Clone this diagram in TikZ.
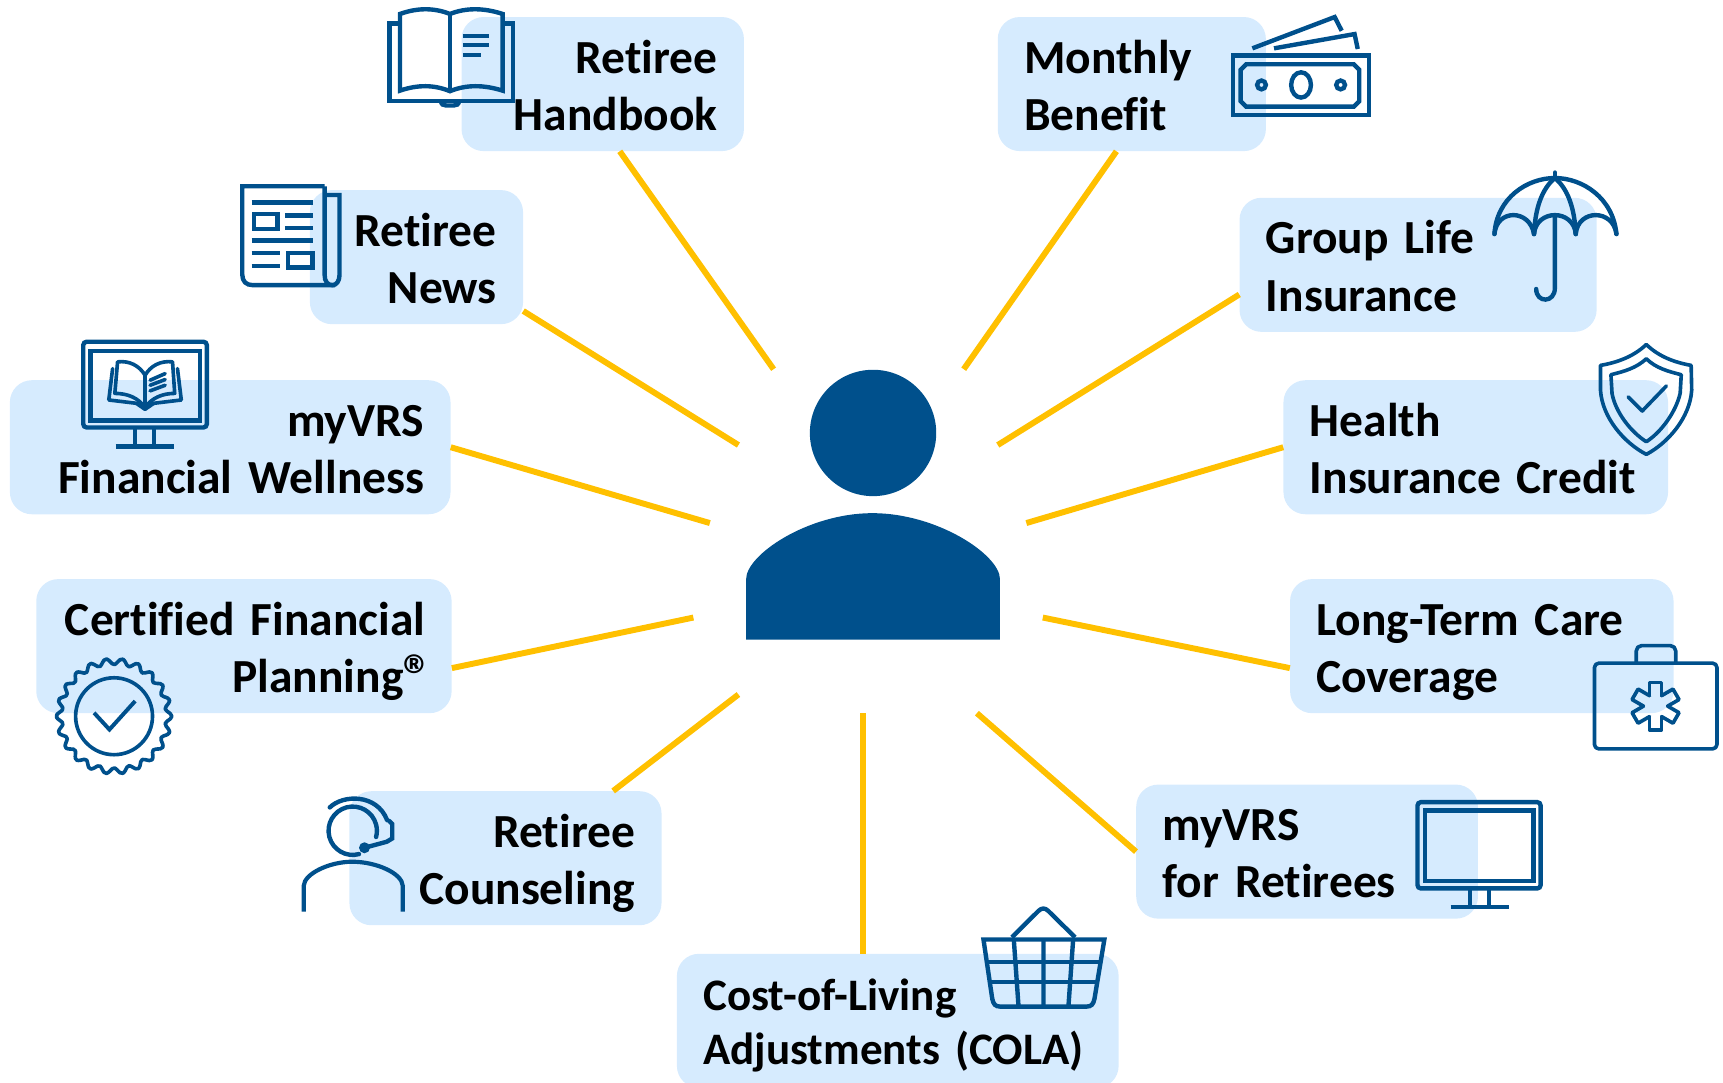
\documentclass[tikz,border=0pt]{standalone}
\usepackage{fontspec}
\setmainfont{Carlito}[Ligatures=NoCommon,WordSpace=0.5]
\usetikzlibrary{calc}
\definecolor{boxblue}{HTML}{D6EBFE}
\definecolor{iconblue}{HTML}{00508C}
\definecolor{gold}{HTML}{FFC000}
\newcommand{\topst}{\rule{0pt}{47.8pt}}
\tikzset{
  tbox/.style={fill=boxblue,rounded corners=20pt,minimum height=122pt,inner xsep=24pt,inner ysep=0pt,
     font=\fontsize{43.2}{52}\selectfont\bfseries,text=black},
  link/.style={draw=gold,line width=5.4pt},
  ic/.style={draw=iconblue,line width=4pt,line join=miter},
  icthin/.style={draw=iconblue,line width=3.3pt,line cap=round,line join=round},
  icfill/.style={fill=iconblue,draw=none}
}
\begin{document}
\begin{tikzpicture}[x=1pt,y=-1pt]
\useasboundingbox (0,0) rectangle (1568,984.7);
% boxes
\node[tbox,text width=209pt,align=right] (hb) at (548.5,76.5) {\topst Retiree\\\strut Handbook};
\node[tbox,text width=196pt,align=left]  (mb) at (1030,76.5) {\topst Monthly\\\strut Benefit};
\node[tbox,text width=146pt,align=right] (nw) at (379,234) {\topst Retiree\\\strut News};
\node[tbox,text width=277pt,align=left]  (gl) at (1290.5,241) {\topst Group Life\\\strut Insurance};
\node[tbox,text width=353pt,align=right] (fw) at (209.5,407) {\topst myVRS\\\strut Financial Wellness};
\node[tbox,text width=302pt,align=left]  (hc) at (1343,407) {\topst Health\\\strut Insurance Credit};
\node[tbox,text width=330pt,align=right] (cf) at (222,588) {\topst Certified Financial\\\strut Planning\raisebox{-3pt}{\fontsize{53}{52}\selectfont ®}\kern-7pt};
\node[tbox,text width=301pt,align=left]  (lt) at (1348.5,588) {\topst Long-Term Care\\\strut Coverage};
\node[tbox,text width=236pt,align=right] (rc) at (460,781) {\topst Retiree\\\strut Counseling};
\node[tbox,text width=263pt,align=left]  (rt) at (1189.5,775) {\topst myVRS\\\strut for Retirees};
\node[tbox,text width=354pt,align=left,font=\fontsize{41}{49}\selectfont\bfseries] (co) at (817,929) {\rule{0pt}{44.5pt}Cost-of-Living\\\strut Adjustments (COLA)};
% person
\fill[iconblue] (794.5,394) circle[radius=57.5];
\node[inner sep=0pt,minimum size=0pt] (person) at (794,520) {};
\fill[iconblue] (679,582) -- (679,527) .. controls (679,505) and (735,467) .. (794,467)
   .. controls (853,467) and (910,505) .. (910,527) -- (910,582) -- cycle;
% connector ends
\coordinate (ehb) at (704,336);
\coordinate (emb) at (877,336);
\coordinate (enw) at (672,405);
\coordinate (egl) at (908,405);
\coordinate (efw) at (646,476);
\coordinate (ehc) at (934,476);
\coordinate (ecf) at (631,562);
\coordinate (elt) at (949,562);
\coordinate (erc) at (672,632);
\coordinate (ert) at (889,649);
\coordinate (eco) at (785,649);
\draw[link] ([xshift=15.5pt]hb.south) -- (ehb);
\draw[link] ([xshift=-14pt]mb.south) -- (emb);
\draw[link] ([yshift=-49pt]nw.east) -- (enw);
\draw[link] ([yshift=-27pt]gl.west) -- (egl);
\draw[link] (fw.east) -- (efw);
\draw[link] (hc.west) -- (ehc);
\draw[link] ([yshift=-20pt]cf.east) -- (ecf);
\draw[link] ([yshift=-20pt]lt.west) -- (elt);
\draw[link] ([xshift=98pt]rc.north) -- (erc);
\draw[link] (rt.west) -- (ert);
\draw[link] ([xshift=-32pt]co.north) -- (eco);
% handbook icon
\draw[ic] (364,12.7) .. controls (380,7) and (395,7) .. (409.5,12.7) .. controls (424,7) and (440,7) .. (457.4,12.7)
   -- (457.4,82.5) .. controls (440,77) and (424,77) .. (409.5,83) .. controls (395,77) and (380,77) .. (364,82.5) -- cycle;
\draw[ic] (409.5,12.7) -- (409.5,83);
\draw[ic] (364,21.5) -- (354.5,21.5) -- (354.5,92) -- (467,92) -- (467,21.5) -- (457.4,21.5);
\draw[ic] (401,92) .. controls (402,95) and (403,96) .. (406,96) -- (413,96) .. controls (416,96) and (417,95) .. (418,92);
\draw[ic] (421.3,32.8) -- (444.6,32.8) (421.3,41.2) -- (444.6,41.2) (421.3,50) -- (437.3,50);
% newspaper icon
\draw[ic] (295.4,169.5) -- (220.5,169.5) -- (220.5,250) .. controls (220.5,256) and (224,259.5) .. (230,259.5) -- (305,259.5);
\draw[ic] (295.4,169.5) -- (295.4,250) .. controls (295.4,256) and (298,259.5) .. (302.5,259.5) .. controls (306,259.5) and (309,256) .. (309,250) -- (309,177.5) -- (295.4,177.5);
\draw[ic] (229,184.4) -- (285,184.4) (259.3,196.2) -- (285,196.2) (259.3,207.5) -- (285,207.5)
   (229,219) -- (285,219) (229,230.5) -- (254.5,230.5) (229,242) -- (254.5,242);
\draw[ic] (231,194.5) rectangle (252.5,208.5);
\draw[ic] (262,230) rectangle (284.5,243.5);
% money icon
\draw[ic] (1122,50.5) rectangle (1246,104.5);
\draw[ic] (1134,58.5) -- (1232,58.5) -- (1237,63.5) -- (1237,92) -- (1232,97) -- (1134,97) -- (1129,92) -- (1129,63.5) -- cycle;
\draw[ic] (1184,77.3) ellipse[x radius=9,y radius=11.5];
\draw[ic] (1148,77.3) circle[radius=4];
\draw[ic] (1220,77.3) circle[radius=4];
\draw[ic] (1139.7,44) -- (1214.6,15.5) -- (1221,28);
\draw[ic] (1159.4,44) -- (1232.7,31) -- (1235.6,44.6);
% umbrella icon
\begin{scope}[line cap=round]
\draw[ic] (1360,213) .. controls (1362,180) and (1390,162) .. (1415,162) .. controls (1440,162) and (1468,180) .. (1471,213);
\draw[ic] (1360,213) .. controls (1362,190) and (1392,190) .. (1396,213);
\draw[ic] (1396,213) .. controls (1398,190) and (1432,190) .. (1434,213);
\draw[ic] (1434,213) .. controls (1436,190) and (1468,190) .. (1471,213);
\draw[ic] (1415,162) .. controls (1403,172) and (1397,190) .. (1396,213);
\draw[ic] (1415,162) .. controls (1427,172) and (1433,190) .. (1434,213);
\draw[ic] (1415,157) -- (1415,162);
\draw[ic] (1415,197) -- (1415,262) .. controls (1415,276) and (1398,276) .. (1398,263);
\end{scope}
% monitor with book icon
\draw[ic,rounded corners=3pt] (75.8,311) rectangle (188.2,389);
\draw[ic] (82.5,319.3) rectangle (182,382.5);
\draw[ic] (122.9,390) -- (122.9,405) (140.3,390) -- (140.3,405) (105.3,406.5) -- (158.5,406.5);
\begin{scope}[icthin]
\draw[icthin] (107,329.3) .. controls (118,328) and (127,333) .. (132,341.5) .. controls (137,333) and (146,328) .. (157,329.3)
  -- (159,358) .. controls (148,358) and (138,362) .. (132,371) .. controls (126,362) and (116,358) .. (104.5,358) -- cycle;
\draw[icthin] (132,341.5) -- (132,371);
\draw[icthin] (102.5,335.4) -- (99,364) -- (124,367) (165,364) -- (161.5,335.4) (165,364) -- (140,367);
\draw[icthin] (124,367) -- (132,372.5) -- (140,367);
\draw[icthin] (136.6,346) -- (150.3,340) (136.6,350.6) -- (150.3,345.4) (136.6,355.7) -- (150.3,350.6);
\end{scope}
% certified seal icon
\draw[icthin] plot[smooth cycle,samples=133,domain=0:357.3,variable=\t] ({103.8+(49.8-2.8*cos(22*(\t-90)))*cos(\t)},{651.8+(49.8-2.8*cos(22*(\t-90)))*sin(\t)});
\draw[icthin] (103.8,651.8) circle[radius=35];
\draw[icthin,line width=3.6pt,line cap=butt,line join=miter] (85.6,648.7) -- (99.6,663.9) -- (123,638);
% shield icon
\draw[icthin] (1498.2,313.5) .. controls (1510,325) and (1525,330) .. (1539,332.5) -- (1539.5,355)
  .. controls (1538,380) and (1518,403) .. (1498.2,413.5) .. controls (1478,403) and (1458,380) .. (1456.5,355) -- (1456.5,332.5)
  .. controls (1471,330) and (1486,325) .. (1498.2,313.5) -- cycle;
\draw[icthin] (1498.2,326.5) .. controls (1507,335) and (1518,338) .. (1530,341) -- (1529,358)
  .. controls (1525,375) and (1512,393) .. (1498.2,402) .. controls (1484,393) and (1470,375) .. (1467,358) -- (1466,341)
  .. controls (1478,338) and (1489,335) .. (1498.2,326.5) -- cycle;
\draw[icthin] (1481.7,361.2) -- (1494.5,374) -- (1516.5,351.2);
% briefcase icon
\draw[icthin,rounded corners=4pt] (1451,603.5) rectangle (1562.5,681.5);
\draw[icthin,rounded corners=5pt] (1489,603.5) -- (1489,587.5) -- (1525,587.5) -- (1525,603.5);
\foreach \a in {0,60,120,180,240,300}
  \draw[icthin,shift={(1506.6,642.6)},rotate=\a] (-5.5,-9.5) -- (-5.5,-21.5) -- (5.5,-21.5) -- (5.5,-9.5);
% headset person icon
\begin{scope}[line cap=round]
\draw[ic] (321,756) ++(75:22) arc[start angle=75,end angle=375,radius=22];
\draw[ic] (300.1,734.8) .. controls (312,723) and (343,722) .. (352.3,746.4);
\draw[ic] (354,747) -- (357,750) -- (357,763) -- (352,766) -- (331.7,771.5);
\end{scope}
\fill[iconblue] (331.7,771.5) circle[radius=5];
\draw[ic,line width=3.8pt] (276.4,829.7) -- (276.4,806) .. controls (277,795) and (300,784.2) .. (320.4,784.2)
   .. controls (343,784.2) and (366,795) .. (366.5,806) -- (366.5,829.7);
% monitor icon
\draw[ic,rounded corners=3pt] (1290,730) rectangle (1402,808.5);
\draw[ic] (1297,737.5) rectangle (1395.4,802);
\draw[ic] (1338,810) -- (1338,824) (1355,810) -- (1355,824) (1320,825.6) -- (1372.8,825.6);
% basket icon
\draw[ic,line join=round] (920.8,853) -- (945,829) .. controls (948,826) and (951,826) .. (954,829) -- (978.4,853);
\draw[ic] (895,855) -- (1005,855) -- (996,909) .. controls (995,914) and (993,916) .. (989,916) -- (910,916) .. controls (906,916) and (904,914) .. (903,909) -- cycle;
\draw[ic] (898.5,875.2) -- (1001.5,875.2) (901.5,893.4) -- (998.5,893.4);
\draw[ic] (949.6,855) -- (949.6,916) (922.6,855) -- (926.9,916) (976.6,855) -- (972.3,916);
\end{tikzpicture}
\end{document}
